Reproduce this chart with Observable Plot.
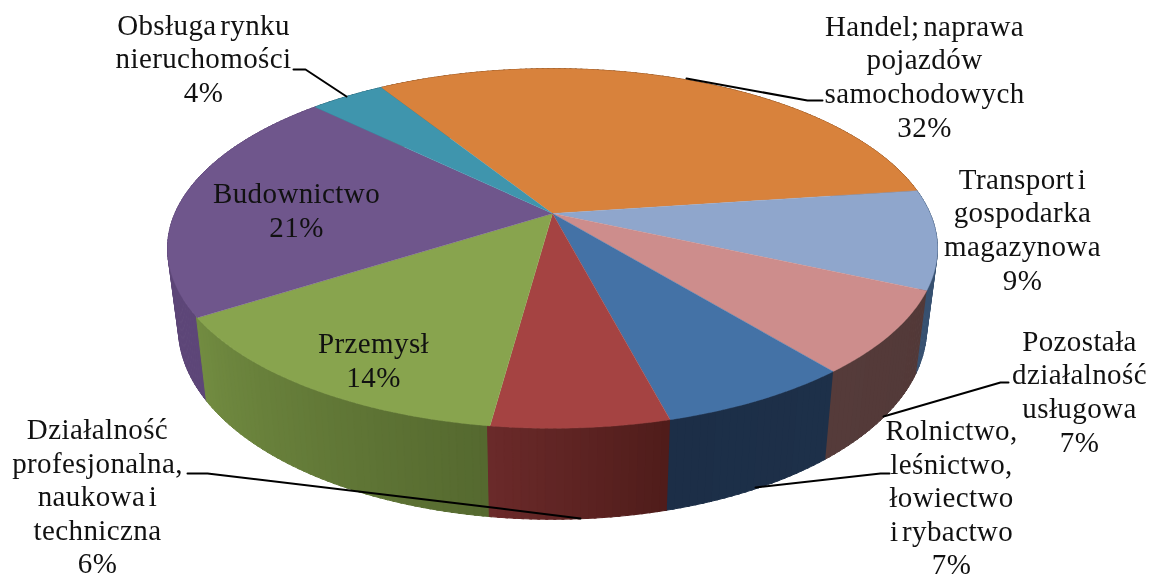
<!DOCTYPE html>
<html><head><meta charset="utf-8">
<script src="https://cdn.jsdelivr.net/npm/d3@7"></script>
<script src="https://cdn.jsdelivr.net/npm/@observablehq/plot@0.6"></script>
<style>html,body{margin:0;padding:0;background:#fff}svg{display:block;filter:blur(.45px)}
svg text{letter-spacing:.4px;word-spacing:-4px}</style>
</head><body><div id="chart"></div>
<script>
const categories = ["Handel; naprawa\npojazdów\nsamochodowych","Transport i\ngospodarka\nmagazynowa","Pozostała\ndziałalność\nusługowa","Rolnictwo,\nleśnictwo,\nłowiectwo\ni rybactwo","Działalność\nprofesjonalna,\nnaukowa i\ntechniczna","Przemysł","Budownictwo","Obsługa rynku\nnieruchomości"];
const shares = [31.7,8.9,7.4,6.8,6.2,13.8,21.4,3.8];
const topColors = ["#d8823c","#8fa6cc","#cd8d8c","#4472a6","#a54342","#88a44e","#6f568c","#3f95ad"];
const wallFrom = ["#8a5020","#3f5a7c","#523938","#1d3049","#4f1c1a","#55692f","#5d4678","#2b6677"];
const wallTo = ["#8a5020","#37506f","#553b3a","#1c2e47","#6b2a2a","#728c41","#5d4678","#2b6677"];

// perspective model of the tilted disc
const cx=552, apexY=213, f=377.6, g=173, k=0.1945, startDeg=-7.8-31.7*3.6;
const rad=d=>d*Math.PI/180;
function topPt(deg){const c=Math.cos(rad(deg)),s=Math.sin(rad(deg)),w=1-k*s;return {x:cx+f*c/w,y:apexY+g*s/w,s};}
function botPt(deg){const p=topPt(deg);return {x:cx+0.972*(p.x-cx),y:p.y+76+15*p.s,s:p.s};}

let acc=startDeg;
const slices=shares.map((v,i)=>{const a0=acc;acc+=v*3.6;return {i,a0,a1:acc};});
const faces=[],walls=[];
slices.forEach(({i,a0,a1})=>{
  faces.push({id:i,x:cx,y:apexY,fill:topColors[i]});
  const n=Math.max(8,Math.round((a1-a0)/1));
  for(let j=0;j<=n;j++){const p=topPt(a0+(a1-a0)*j/n);faces.push({id:i,x:p.x,y:p.y,fill:topColors[i]});}
  const mix=d3.interpolateRgb(wallFrom[i],wallTo[i]);
  for(let j=0;j<n;j++){
    const u0=a0+(a1-a0)*j/n,u1=a0+(a1-a0)*(j+1)/n+0.3,t=(j+.5)/n;
    const id=`${i}-${j}`, fill=mix(t), order=Math.sin(rad((u0+u1)/2));
    [topPt(u0),topPt(u1),botPt(u1),botPt(u0)].forEach(p=>walls.push({id,x:p.x,y:p.y,fill,order}));
  }
});
const wallIds=d3.groupSort(walls,g=>g[0].order,d=>d.id);
const rank=new Map(wallIds.map((d,i)=>[d,i]));
walls.sort((a,b)=>rank.get(a.id)-rank.get(b.id));

const labelPos=[[924,75],[1022,228],[1079,390],[951,496],[97,495],[373,359],[296,209],[203,57]];
const labels=categories.map((c,i)=>({text:`${c}\n${Math.round(shares[i])}%`,x:labelPos[i][0],y:labelPos[i][1]}));
const leaderPaths=[
 [[822,100],[807,100],[686,78]],
 [[1008,382],[1000,382],[883,416]],
 [[889,473],[880,473],[755,487]],
 [[187,473],[207,473],[500,508],[580,518]],
 [[293,69],[305,69],[346,96]]
];
const leaders=leaderPaths.flatMap((p,id)=>p.map(([x,y])=>({id,x,y})));

const plot=Plot.plot({
  width:1151,height:574,margin:0,
  style:{background:"#fff"},
  x:{domain:[0,1151],range:[0,1151],axis:null},
  y:{domain:[0,574],range:[0,574],axis:null},
  marks:[
    Plot.line(walls,{x:"x",y:"y",z:"id",fill:"fill",stroke:"fill",strokeWidth:1,curve:"linear"}),
    Plot.line(faces,{x:"x",y:"y",z:"id",fill:"fill",stroke:"fill",strokeWidth:0.4,curve:"linear"}),
    Plot.line(leaders,{x:"x",y:"y",z:"id",stroke:"#000",strokeWidth:2,curve:"linear"}),
    Plot.text(labels,{x:"x",y:"y",text:"text",fontFamily:"Liberation Serif",fontSize:29,lineHeight:1.159,textAnchor:"middle",fill:"#111"})
  ]
});
document.getElementById("chart").appendChild(plot);
</script></body></html>
